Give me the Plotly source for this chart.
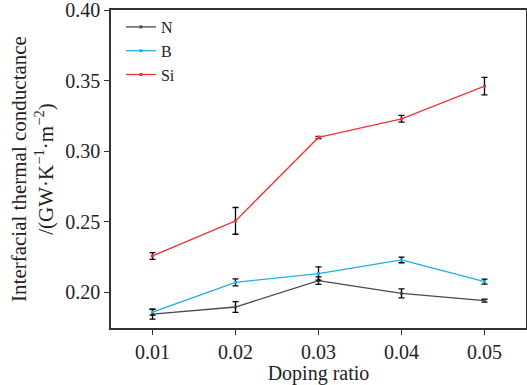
import plotly.graph_objects as go

doping = [0.01, 0.02, 0.03, 0.04, 0.05]
tick_labels = ["0.01", "0.02", "0.03", "0.04", "0.05"]
y_ticks = [0.20, 0.25, 0.30, 0.35, 0.40]
y_tick_labels = ["0.20", "0.25", "0.30", "0.35", "0.40"]

n_vals = [0.1843, 0.1894, 0.2081, 0.1991, 0.1939]
n_err = [0.0035, 0.0038, 0.0027, 0.0032, 0.0010]
b_vals = [0.1857, 0.2069, 0.2131, 0.2228, 0.2074]
b_err = [0.0020, 0.0025, 0.0047, 0.0020, 0.0018]
si_vals = [0.2256, 0.2505, 0.3097, 0.3229, 0.3461]
si_err = [0.0024, 0.0095, 0.0008, 0.0024, 0.0062]

series = [("N", n_vals, n_err, "#4a4a4a"),
          ("B", b_vals, b_err, "#22ade6"),
          ("Si", si_vals, si_err, "#f2343a")]

font_family = "Liberation Serif, DejaVu Serif, serif"

fig = go.Figure()
for name, vals, err, color in series:
    fig.add_trace(go.Scatter(
        x=doping, y=vals, name=name, mode="lines+markers",
        line=dict(color=color, width=1.3),
        marker=dict(color=color, size=3, symbol="square"),
        error_y=dict(type="data", array=err, visible=True,
                     color="black", thickness=1.3, width=3),
    ))

fig.update_layout(
    width=527, height=385,
    margin=dict(l=111, r=1, t=10, b=57),
    paper_bgcolor="white", plot_bgcolor="white",
    font=dict(family=font_family, size=20, color="#222"),
    showlegend=True,
    legend=dict(x=0.024, y=1.0, xanchor="left", yanchor="top",
                bgcolor="rgba(0,0,0,0)", font=dict(size=16),
                tracegroupgap=0, itemwidth=30),
)
fig.update_xaxes(
    range=[0.005, 0.055], tickvals=doping, ticktext=tick_labels,
    showgrid=False, zeroline=False, showline=True, mirror=True,
    linecolor="#333", linewidth=1.5, ticks="outside", ticklen=5,
    tickcolor="#333", tickwidth=1, automargin=False,
    title=dict(text="Doping ratio", font=dict(size=20), standoff=2),
)
fig.update_yaxes(
    range=[0.1745, 0.4001], tickvals=y_ticks, ticktext=y_tick_labels,
    showgrid=False, zeroline=False, showline=True, mirror=True,
    linecolor="#333", linewidth=1.5, ticks="outside", ticklen=5,
    tickcolor="#333", tickwidth=1, automargin=False,
    ticklabeloverflow="allow",
    title=dict(text="Interfacial thermal conductance<br>/(GW·K<sup>−1</sup>·m<sup>−2</sup>)",
               font=dict(size=21), standoff=6),
)

fig.write_html("out.html")
